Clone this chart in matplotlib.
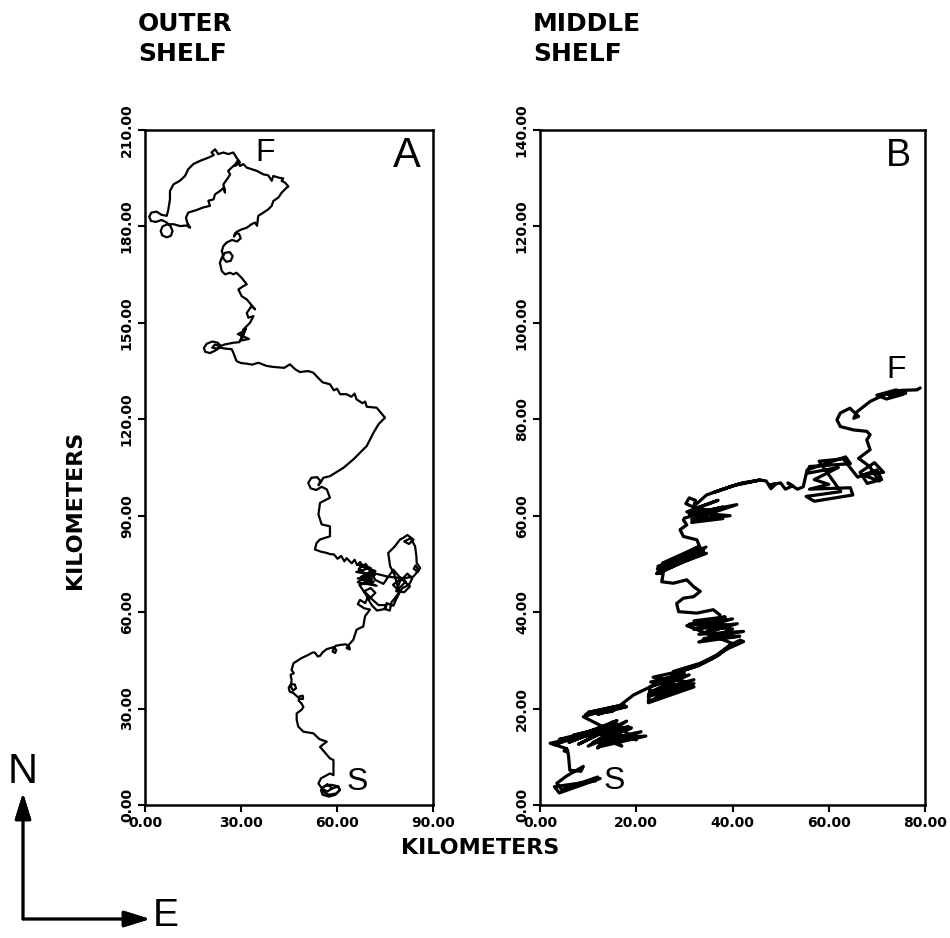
import numpy as np
import matplotlib
matplotlib.use("Agg")
import matplotlib.pyplot as plt
from matplotlib.ticker import FormatStrFormatter

# drifter track on the outer shelf (km east, km north), start -> finish
outer_track = [
    (58.0, 5.0), (60.5, 5.8), (60.8, 4.5), (59.5, 3.2), (57.5, 2.6), (55.5, 3.2),
    (55.0, 4.6), (56.0, 5.8), (58.0, 6.3), (60.0, 5.9), (60.9, 4.8), (59.8, 3.6),
    (57.5, 3.2), (55.8, 4.0), (55.6, 5.4), (57.0, 6.5), (58.5, 5.2), (57.0, 4.2),
    (55.4, 5.0), (54.2, 6.7), (55.0, 8.3), (57.8, 9.8), (58.9, 9.3), (58.9, 14.0),
    (57.8, 14.5), (56.5, 16.0), (54.7, 18.1), (56.8, 19.7), (54.5, 20.5), (52.6, 22.3),
    (49.5, 22.8), (47.9, 24.4), (47.4, 26.5), (47.4, 28.5), (48.9, 29.6), (49.5, 30.5),
    (48.9, 31.6), (48.0, 32.5), (48.3, 33.8), (49.3, 34.0), (49.4, 33.0), (48.4, 33.0),
    (46.4, 34.8), (45.2, 35.3), (44.9, 36.5), (45.6, 37.6), (46.8, 37.5), (47.2, 36.3),
    (46.3, 35.6), (45.6, 36.8), (45.8, 38.9), (45.5, 40.5), (46.5, 41.0), (45.8, 42.0),
    (46.4, 44.1), (47.5, 44.8), (48.9, 45.7), (51.0, 46.7), (52.5, 47.5), (53.1, 47.4),
    (54.0, 46.2), (54.7, 46.4), (55.5, 47.5), (56.8, 48.5), (58.9, 49.1), (59.8, 48.2),
    (59.4, 47.3), (58.6, 47.8), (59.5, 49.5), (61.0, 49.8), (62.8, 50.0), (63.8, 49.3),
    (64.0, 48.4), (63.0, 48.8), (64.0, 50.2), (65.1, 51.4), (66.1, 54.5), (67.0, 55.0),
    (68.2, 55.5), (68.75, 58.7), (70.3, 60.8),
    # eddy loops near 60-85 km north
    (68.5, 61.2), (66.5, 62.5), (67.2, 63.8), (68.8, 62.8), (69.5, 64.4), (71.0, 62.0),
    (72.5, 60.5), (75.0, 61.0), (75.5, 62.2), (73.0, 62.2), (71.5, 63.5), (70.0, 65.0),
    (68.5, 66.5), (70.5, 67.5), (72.0, 66.0), (70.0, 64.0), (67.0, 68.5), (71.5, 69.5),
    (66.5, 70.5), (71.8, 71.5), (66.0, 72.5), (70.5, 73.8), (67.0, 74.5), (72.0, 72.8),
    (68.0, 70.0), (72.4, 68.2), (66.5, 69.3), (70.5, 72.6), (67.5, 71.0), (71.0, 70.3),
    (66.8, 73.5), (69.0, 75.0), (72.0, 70.0), (74.5, 68.8), (77.6, 73.2), (79.5, 71.0),
    (81.5, 69.5), (79.0, 67.0), (77.5, 68.5), (80.0, 70.5), (82.8, 68.0), (81.0, 66.2),
    (78.5, 66.5), (79.7, 69.6), (82.0, 72.0), (83.5, 70.5), (82.5, 68.5), (80.5, 67.5),
    (77.0, 63.0), (76.5, 60.5), (74.8, 61.0), (75.5, 62.8), (77.6, 62.0), (78.5, 64.0),
    (79.5, 66.0), (78.0, 71.5), (76.6, 74.3), (76.0, 78.4), (78.1, 80.5), (79.7, 82.6),
    (80.7, 83.1), (82.0, 84.0), (83.9, 82.6), (82.5, 81.2), (81.0, 82.0), (83.0, 83.0),
    (84.4, 80.5), (84.8, 77.5), (84.9, 75.3), (86.0, 73.7), (85.2, 72.5), (84.0, 73.5),
    (84.5, 74.5), (85.5, 73.0), (83.9, 71.1), (81.0, 70.5), (76.0, 71.0), (72.0, 72.0),
    (69.3, 74.3), (68.0, 74.5), (67.2, 75.6), (66.3, 74.6), (65.5, 76.3), (64.6, 75.2),
    (63.0, 76.8), (62.3, 75.8), (61.3, 77.5), (60.2, 76.6), (59.0, 78.0), (58.0, 78.0),
    (56.5, 78.5), (55.0, 78.8), (53.1, 79.5), (53.6, 81.5), (54.7, 82.6), (57.8, 83.6),
    (57.8, 86.7), (55.2, 87.3), (54.2, 90.4), (54.7, 94.0), (57.8, 95.6), (56.8, 98.2),
    (55.2, 99.0), (53.5, 98.0), (51.8, 98.5), (51.0, 100.2), (52.0, 101.8), (53.8, 102.0),
    (54.8, 100.8), (54.2, 99.5), (55.0, 100.5), (55.7, 101.8), (57.8, 102.3),
    (62.0, 104.9), (65.1, 107.5), (69.3, 111.7), (71.4, 115.8), (73.0, 118.5), (75.0, 120.5),
    (72.4, 123.6), (69.3, 123.9), (68.8, 125.5), (68.0, 125.0), (66.1, 126.2), (65.5, 128.0),
    (64.5, 127.0), (63.0, 127.8), (61.0, 127.8), (60.0, 129.5), (59.0, 129.0), (57.8, 130.9),
    (55.5, 131.5), (54.0, 133.0), (52.6, 134.5), (51.0, 135.0), (48.4, 134.7), (47.0, 135.5),
    (45.3, 137.1), (43.5, 136.0), (42.2, 136.1), (40.0, 136.3), (38.0, 136.6), (35.4, 137.6),
    (33.5, 137.0), (31.8, 137.3), (30.0, 137.5), (28.6, 138.1), (27.6, 140.7), (27.1, 141.8),
    (25.0, 142.0), (23.4, 142.3), (21.8, 141.3), (20.3, 140.6), (18.8, 141.0), (18.4, 142.2),
    (19.3, 143.5), (21.0, 144.2), (22.8, 143.8), (23.6, 142.8), (22.5, 142.0), (21.0, 142.3),
    (21.8, 143.2), (23.6, 142.8), (25.0, 143.3), (27.6, 143.8), (29.5, 144.0),
    (31.0, 147.5), (29.0, 146.5), (32.5, 145.0), (30.0, 144.5), (31.5, 148.2), (30.5, 146.0),
    (30.7, 147.9), (32.8, 150.0), (33.9, 152.1), (32.3, 151.6), (31.8, 153.1), (33.3, 155.2),
    (34.4, 154.2), (31.8, 157.3), (30.2, 158.3), (29.2, 160.4), (30.7, 161.4), (31.8, 162.0),
    (30.2, 164.0), (28.6, 165.6), (27.6, 165.1), (26.6, 165.6), (25.0, 165.1), (24.0, 166.1),
    (23.4, 168.7), (24.0, 170.3), (25.0, 171.8), (26.5, 172.0), (27.4, 170.8), (26.8, 169.3),
    (25.4, 169.0), (24.5, 170.0), (24.3, 171.5), (24.0, 172.3), (24.5, 173.9), (25.5, 175.0),
    (27.2, 175.8), (28.8, 175.3), (29.9, 176.3), (29.4, 177.7), (28.2, 177.9), (27.8, 176.8),
    (28.6, 178.3), (30.0, 179.0), (31.8, 179.6), (33.3, 180.7), (34.4, 181.2), (35.0, 180.2),
    (35.4, 183.3), (37.0, 184.3), (38.5, 185.3), (39.6, 186.4), (40.1, 187.9), (41.7, 189.0),
    (42.7, 190.5), (44.3, 192.1), (44.8, 192.4), (43.8, 193.6), (42.7, 194.2), (43.2, 194.9),
    (41.7, 195.2), (40.1, 195.7), (39.6, 194.2), (38.5, 195.9), (37.0, 196.2), (34.9, 197.3),
    (33.3, 197.8), (31.8, 198.3), (30.7, 199.4), (29.7, 198.8), (28.9, 200.4), (28.1, 198.8),
    (29.7, 199.9), (28.6, 201.4), (27.6, 203.0), (26.0, 202.5), (24.5, 203.0), (22.9, 202.5),
    (21.9, 204.0), (20.8, 203.0), (21.5, 202.2), (19.8, 201.4), (17.2, 200.4), (15.1, 199.4),
    (13.5, 197.8), (12.5, 195.7), (10.9, 194.2), (8.9, 193.1), (7.8, 191.0), (7.8, 188.4),
    (7.3, 185.3), (6.8, 183.3), (5.2, 183.6), (3.6, 184.6), (2.0, 184.3), (1.3, 183.0),
    (1.9, 181.7), (3.4, 181.4), (5.2, 182.0), (6.8, 181.2), (8.0, 180.0), (8.6, 178.6),
    (8.1, 177.1), (6.8, 176.6), (5.4, 177.2), (4.9, 178.6), (5.5, 180.0), (6.8, 180.6),
    (8.9, 180.7), (11.0, 180.1), (13.0, 180.3), (14.1, 179.6), (13.2, 181.2), (12.8, 182.7),
    (13.5, 184.3), (16.1, 185.1), (18.2, 185.9), (20.3, 186.4), (19.8, 188.0), (21.4, 188.4),
    (21.9, 190.0), (23.4, 191.0), (24.7, 192.1), (25.0, 190.5), (24.5, 193.1), (26.0, 195.2),
    (26.6, 196.2), (26.0, 197.3), (27.6, 198.8), (28.9, 199.9),
]

# drifter track on the middle shelf, start -> finish
middle_track = [
    (12.5, 5.5), (4.0, 2.5), (3.0, 3.8), (11.5, 5.0), (12.0, 5.8), (4.5, 3.2),
    (3.5, 4.5), (5.5, 6.0), (9.0, 8.0), (8.5, 7.0), (6.2, 7.2), (5.9, 10.4),
    (5.5, 11.7), (5.0, 11.2), (5.8, 11.0), (5.5, 11.7),
    # dense band 12-18 km north
    (2.1, 12.8), (12.0, 15.0), (4.0, 13.6), (14.0, 16.2), (6.0, 13.0), (16.0, 16.8),
    (8.0, 12.6), (18.0, 17.4), (10.0, 12.2), (19.0, 16.0), (11.0, 13.0), (21.0, 15.2),
    (12.0, 12.0), (22.0, 14.3), (13.0, 13.8), (17.0, 12.2), (14.0, 15.0), (20.0, 13.5),
    (15.0, 17.2), (12.0, 11.8), (17.0, 15.8), (9.0, 14.2), (16.0, 17.5), (3.0, 12.5),
    (13.0, 16.0), (7.0, 14.5), (18.5, 16.2), (10.0, 15.0), (17.5, 14.0),
    (9.0, 18.3), (16.0, 20.5), (10.0, 19.2), (17.5, 20.8), (12.0, 18.8), (18.0, 20.4),
    (9.5, 18.8), (15.0, 19.4), (19.4, 22.8), (22.9, 24.5),
    # blob 21-27 km north
    (22.5, 21.5), (31.5, 25.0), (22.5, 22.5), (32.0, 26.0), (23.0, 23.5), (31.0, 27.0),
    (22.8, 24.5), (30.0, 27.3), (23.0, 25.5), (32.0, 24.5), (22.5, 21.2), (31.0, 25.5),
    (23.5, 26.5), (28.0, 27.5), (24.0, 22.0), (32.0, 25.2), (22.6, 23.0), (29.0, 26.5),
    (27.7, 27.7), (33.3, 29.4), (36.7, 31.1), (39.5, 33.2), (41.6, 34.2), (42.3, 33.9),
    (39.0, 32.4), (35.5, 30.2), (32.0, 28.6), (28.5, 27.5), (33.0, 28.9), (37.0, 31.0),
    (40.0, 33.5),
    # scribble 33-39 km north
    (30.5, 37.2), (40.0, 38.6), (32.0, 36.4), (41.0, 37.6), (33.0, 35.4), (42.3, 36.0),
    (34.0, 34.5), (41.5, 35.0), (33.0, 33.8), (40.0, 36.5), (31.0, 37.5), (38.5, 39.0),
    (32.0, 38.2), (39.5, 37.2), (34.5, 35.8), (37.1, 38.0),
    (37.4, 39.4), (36.0, 40.5), (32.6, 39.8), (28.8, 40.1), (28.4, 41.8), (29.8, 42.9),
    (31.9, 43.2), (33.3, 44.3), (31.9, 45.3), (30.5, 46.7), (27.7, 46.0), (25.3, 46.3),
    (25.6, 48.1),
    # blob 48-54 km north
    (24.2, 48.0), (33.5, 52.0), (24.5, 49.5), (34.5, 53.5), (25.0, 48.2), (34.0, 52.5),
    (24.4, 49.0), (33.0, 53.6), (25.5, 50.2), (34.6, 52.2), (24.5, 48.5), (32.5, 53.0),
    (25.0, 49.3), (34.0, 53.0),
    (33.3, 53.3), (32.6, 55.0), (29.8, 55.7), (29.1, 57.1), (30.5, 58.1), (29.8, 59.1),
    # blob 58-64 km north
    (30.0, 59.5), (38.0, 61.8), (31.0, 60.3), (40.9, 62.3), (31.5, 59.2), (39.5, 60.0),
    (30.5, 60.8), (37.0, 63.2), (32.0, 61.4), (38.0, 59.4), (31.5, 58.6), (36.5, 61.0),
    (32.5, 61.5), (30.3, 62.5), (31.0, 63.7), (32.3, 63.2), (32.0, 62.0),
    (34.6, 64.3), (40.0, 66.2), (45.7, 67.4), (41.0, 66.5), (36.0, 64.8), (42.0, 66.8),
    (45.7, 67.4),
    (47.0, 67.2), (48.0, 65.6), (49.0, 66.6), (47.8, 66.4), (50.0, 66.8), (51.0, 65.5),
    (52.5, 66.2), (51.5, 66.8), (53.5, 65.5), (54.7, 66.0),
    # loops 63-73 km north
    (55.5, 69.5), (63.5, 72.2), (64.5, 70.8), (56.0, 70.2), (55.5, 68.8), (62.0, 70.0),
    (57.0, 67.5), (60.0, 66.5), (56.0, 65.5), (64.5, 65.8), (65.0, 64.3), (57.0, 63.0),
    (55.3, 64.0), (62.5, 65.0), (58.0, 71.3), (63.0, 71.8),
    (66.0, 68.0), (70.0, 69.5), (71.0, 67.5), (68.0, 66.7), (66.5, 69.0), (69.5, 71.0),
    (71.4, 69.0), (67.0, 68.5), (70.5, 67.2), (68.5, 70.2), (66.2, 71.9),
    (68.6, 73.7), (67.9, 75.7), (68.6, 76.8), (67.9, 77.5), (65.1, 77.8), (62.4, 78.5),
    (61.7, 79.9), (62.4, 81.3), (64.4, 82.3), (66.2, 80.6), (65.2, 80.2), (65.8, 81.5),
    (68.6, 83.7), (70.7, 84.7), (73.5, 85.8), (75.5, 85.2), (72.0, 84.2), (70.0, 85.0),
    (74.0, 86.1), (76.0, 85.4), (72.5, 85.0), (75.0, 86.0), (78.3, 86.1), (79.0, 86.5),
]

panels = [
    dict(track=outer_track, lw=1.6, xlim=(0, 90), ylim=(0, 210),
         xticks=[0, 30, 60, 90], yticks=[0, 30, 60, 90, 120, 150, 180, 210],
         letter="A", letter_xy=(81.9, 202.0), letter_size=30,
         start_xy=(66.3, 7.2), finish_xy=(37.5, 203.0), title="OUTER\nSHELF"),
    dict(track=middle_track, lw=2.3, xlim=(0, 80), ylim=(0, 140),
         xticks=[0, 20, 40, 60, 80], yticks=[0, 20, 40, 60, 80, 100, 120, 140],
         letter="B", letter_xy=(74.4, 134.6), letter_size=27,
         start_xy=(15.4, 5.0), finish_xy=(74.1, 90.2), title="MIDDLE\nSHELF"),
]

W, H = 950, 938
fig = plt.figure(figsize=(W / 100, H / 100), dpi=100)

boxes = [(145, 130, 433, 805), (540, 130, 925, 805)]   # left, top, right, bottom in px
thin = ["Liberation Sans", "DejaVu Sans"]

for p, (l, t, r, b) in zip(panels, boxes):
    ax = fig.add_axes([l / W, 1 - b / H, (r - l) / W, (b - t) / H])
    xy = np.array(p["track"])
    ax.plot(xy[:, 0], xy[:, 1], color="black", lw=p["lw"],
            solid_joinstyle="round", solid_capstyle="round")
    ax.set_xlim(*p["xlim"])
    ax.set_ylim(*p["ylim"])
    ax.set_xticks(p["xticks"])
    ax.set_yticks(p["yticks"])
    ax.xaxis.set_major_formatter(FormatStrFormatter("%.2f"))
    ax.yaxis.set_major_formatter(FormatStrFormatter("%.2f"))
    ax.tick_params(direction="out", length=5, width=1.5, labelsize=10, pad=3)
    for lab in ax.get_xticklabels() + ax.get_yticklabels():
        lab.set_fontweight("bold")
    for lab in ax.get_yticklabels():
        lab.set_rotation(90)
        lab.set_va("center")
    for s in ax.spines.values():
        s.set_linewidth(1.8)

    ax.text(*p["letter_xy"], p["letter"], family=thin, fontsize=p["letter_size"],
            ha="center", va="center")
    ax.text(*p["start_xy"], "S", family=thin, fontsize=23, ha="center", va="center")
    ax.text(*p["finish_xy"], "F", family=thin, fontsize=23, ha="center", va="center")
    fig.text((l - 7) / W, 1 - 12 / H, p["title"], fontsize=18, fontweight="bold",
             ha="left", va="top", linespacing=1.3)

fig.text(75 / W, 1 - 510 / H, "KILOMETERS", rotation=90, fontsize=16,
         fontweight="bold", ha="center", va="center")
fig.text(480 / W, 1 - 848 / H, "KILOMETERS", fontsize=16,
         fontweight="bold", ha="center", va="center")

# north / east compass in the lower left corner
arrow = dict(arrowstyle="-|>,head_length=1.6,head_width=0.5", color="black", lw=2,
             shrinkA=0, shrinkB=0)
fig.add_artist(plt.annotate("", xy=(23 / W, 1 - 793 / H), xytext=(23 / W, 1 - 919 / H),
                            xycoords="figure fraction", arrowprops=arrow))
fig.add_artist(plt.annotate("", xy=(150 / W, 1 - 919 / H), xytext=(23 / W, 1 - 919 / H),
                            xycoords="figure fraction", arrowprops=arrow))
fig.text(23 / W, 1 - 772 / H, "N", family=thin, fontsize=30, ha="center", va="center")
fig.text(166 / W, 1 - 916 / H, "E", family=thin, fontsize=28, ha="center", va="center")

fig.savefig("out.png", dpi=100)
